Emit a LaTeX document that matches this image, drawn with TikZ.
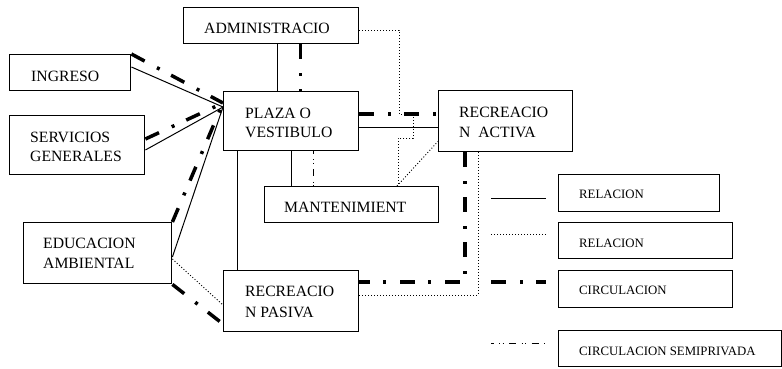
\documentclass[tikz,border=0pt]{standalone}
\usepackage{fontspec}
\setmainfont{Liberation Serif}
\begin{document}
\begin{tikzpicture}[x=1pt,y=-1pt,
  box/.style={draw, line width=1.4pt, inner sep=0pt, anchor=north west},
  lbl/.style={inner sep=0pt, anchor=base west, font=\fontsize{15.7}{19}\selectfont},
  leg/.style={inner sep=0pt, anchor=base west, font=\fontsize{12.8}{15}\selectfont},
  rel/.style={line width=1pt},
  reld/.style={line width=0.9pt, dash pattern=on 1pt off 2pt},
  circ/.style={line width=3.5pt, dash pattern=on 15pt off 14pt on 3pt off 13pt},
  semi/.style={line width=0.9pt, dash pattern=on 7pt off 5.5pt on 1pt off 2.5pt on 1pt off 5.5pt, dash phase=4.5pt}]
\useasboundingbox (0,0) rectangle (782,368);

% boxes
\node[box, minimum width=175pt, minimum height=36pt] (adm) at (183,7) {};
\node[box, minimum width=121pt, minimum height=36pt] (ing) at (9,54) {};
\node[box, minimum width=135pt, minimum height=59pt] (serv) at (9,115) {};
\node[box, minimum width=135pt, minimum height=59pt] (plaza) at (223,91) {};
\node[box, minimum width=134pt, minimum height=61pt] (act) at (438,90) {};
\node[box, minimum width=174pt, minimum height=36pt] (mant) at (264,186) {};
\node[box, minimum width=148pt, minimum height=61pt] (edu) at (23,222) {};
\node[box, minimum width=135pt, minimum height=61pt] (pas) at (223,270) {};
\node[box, minimum width=161pt, minimum height=37pt] (l1) at (558,174) {};
\node[box, minimum width=174pt, minimum height=36pt] (l2) at (558,222) {};
\node[box, minimum width=174pt, minimum height=37pt] (l3) at (558,270) {};
\node[box, minimum width=223pt, minimum height=36pt] (l4) at (558,330) {};

% texts
\node[lbl] (tadm) at (204,33) {ADMINISTRACIO};
\node[lbl] (ting) at (31,81) {INGRESO};
\node[lbl] (tserva) at (30,142) {SERVICIOS};
\node[lbl] (tservb) at (30,161) {GENERALES};
\node[lbl] (tplaa) at (245,118) {PLAZA O};
\node[lbl] (tplab) at (245,137) {VESTIBULO};
\node[lbl] (tacta) at (459,117) {RECREACIO};
\node[lbl] (tactb) at (459,137) {N~~ACTIVA};
\node[lbl] (tmant) at (284,212) {MANTENIMIENT};
\node[lbl] (tedua) at (43,248) {EDUCACION};
\node[lbl] (tedub) at (43,268) {AMBIENTAL};
\node[lbl] (tpasa) at (245,296) {RECREACIO};
\node[lbl] (tpasb) at (245,317) {N PASIVA};
\node[leg] (tl1) at (579,198) {RELACION};
\node[leg] (tl2) at (579,247) {RELACION};
\node[leg] (tl3) at (579,294) {CIRCULACION};
\node[leg] (tl4) at (579,355) {CIRCULACION SEMIPRIVADA};

% convergence points on plaza
\coordinate (cA) at ([yshift=-12pt]plaza.north west);
\coordinate (cB) at ([yshift=-16pt]plaza.north west);

% admin - plaza
\draw[rel] ([xshift=6.5pt]adm.south) -- ([xshift=6.5pt]adm.south |- plaza.north);
\draw[circ] ([xshift=29.5pt]adm.south) -- ([xshift=29.5pt]adm.south |- plaza.north);

% left boxes to plaza
\draw[circ] (ing.north east) -- (cA);
\draw[rel] ([yshift=-13pt]ing.north east) -- (cB);
\draw[rel] ([yshift=-35pt]serv.north east) -- (cB);
\draw[circ] ([yshift=-24pt]serv.north east) -- (cA);
\draw[rel] ([yshift=-35pt]edu.north east) -- (cB);
\draw[circ] (edu.north east) -- (cA);

% educacion - pasiva
\draw[reld] ([yshift=-37pt]edu.north east) -- ([yshift=-35pt]pas.north west);
\draw[circ] (edu.south east) -- ([yshift=-54pt]pas.north west);

% plaza down
\draw[rel] ([xshift=14pt]plaza.south west) -- ([xshift=14pt]plaza.south west |- pas.north);
\draw[rel] ([xshift=68pt]plaza.south west) -- ([xshift=68pt]plaza.south west |- mant.north);
\draw[semi] ([xshift=90pt]plaza.south west) -- ([xshift=90pt]plaza.south west |- mant.north);

% plaza - activa
\draw[rel] ([yshift=-36pt]plaza.north east) -- ([yshift=-36pt]plaza.north east -| act.west);
\draw[circ] ([yshift=-23pt]plaza.north east) -- ([yshift=-23pt]plaza.north east -| act.west);

% dotted admin - mantenimiento
\draw[reld] ([yshift=-23pt]adm.north east) -- ++(40,0) -- ++(0,84) -- ++(14,0) -- ++(0,24) -- ++(-15,0) coordinate (dk) -- (dk |- mant.north);
\draw[reld] ([xshift=133pt]mant.north west) -- ([yshift=11pt]act.south west);

% activa - pasiva
\draw[circ] ([xshift=27pt]act.south west) |- ([yshift=-12pt]pas.north east);
\draw[reld] ([xshift=40pt]act.south west) |- ([yshift=-25pt]pas.north east);

% legend lines
\coordinate (k1a) at (491,198); \coordinate (k1b) at (546,198);
\coordinate (k2a) at (491,234); \coordinate (k2b) at (546,234);
\coordinate (k3a) at (491,282); \coordinate (k3b) at (546,282);
\coordinate (k4a) at (491,343); \coordinate (k4b) at (546,343);
\draw[rel] (k1a) -- (k1b);
\draw[reld] (k2a) -- (k2b);
\draw[circ] (k3a) -- (k3b);
\draw[semi] (k4a) -- (k4b);
\end{tikzpicture}
\end{document}
